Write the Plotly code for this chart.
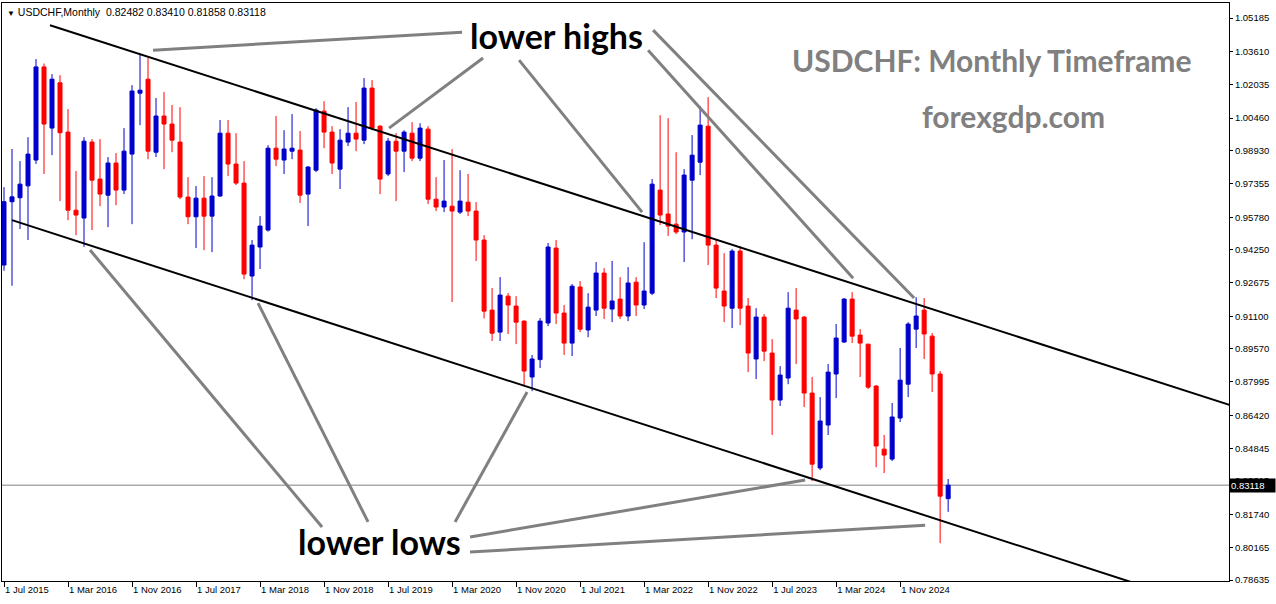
import plotly.graph_objects as go
import pandas as pd

# ---------------- data ----------------
symbol = "USDCHF"
timeframe = "Monthly"
start_month = "2015-07-01"

opens = [0.9352, 0.9651, 0.9670, 0.9726, 0.9848, 1.0288, 0.9999, 1.0213, 0.9980, 0.9611,
         0.9574, 0.9933, 0.9758, 0.9682, 0.9834, 0.9706, 0.9876, 1.0164, 1.0230, 0.9885,
         1.0056, 1.0018, 0.9933, 0.9673, 0.9580, 0.9668, 0.9583, 0.9678, 0.9975, 0.9829,
         0.9739, 0.9300, 0.9437, 0.9517, 0.9904, 0.9848, 0.9890, 0.9895, 0.9687, 0.9800,
         1.0079, 0.9980, 0.9805, 0.9933, 0.9975, 0.9942, 1.0188, 1.0008, 0.9782, 0.9937,
         0.9890, 0.9975, 0.9857, 0.9994, 0.9663, 0.9626, 0.9630, 0.9602, 0.9649, 0.9607,
         0.9470, 0.9139, 0.9035, 0.9205, 0.9158, 0.9087, 0.8823, 0.8905, 0.9078, 0.9432,
         0.9125, 0.8983, 0.9248, 0.9045, 0.9139, 0.9314, 0.9144, 0.9191, 0.9111, 0.9271,
         0.9163, 0.9219, 0.9706, 0.9593, 0.9545, 0.9508, 0.9753, 0.9838, 1.0008, 0.9446,
         0.9229, 0.9148, 0.9418, 0.9158, 0.8908, 0.9106, 0.8936, 0.8714, 0.8818, 0.9139,
         0.9106, 0.8747, 0.8393, 0.8596, 0.8837, 0.8988, 0.9191, 0.9021, 0.8978, 0.8780,
         0.8482, 0.8435, 0.8629, 0.8789, 0.9049, 0.9139, 0.9016, 0.8837, 0.82482]
highs = [0.9720, 0.9900, 0.9843, 0.9956, 1.0325, 1.0304, 1.0254, 1.0249, 1.0089, 0.9796,
         0.9956, 0.9947, 0.9947, 0.9862, 0.9881, 0.9999, 1.0202, 1.0348, 1.0330, 1.0141,
         1.0169, 1.0108, 1.0098, 0.9767, 0.9725, 0.9772, 0.9767, 1.0037, 1.0037, 0.9975,
         0.9843, 0.9470, 0.9583, 0.9918, 1.0056, 0.9989, 1.0065, 0.9985, 0.9819, 1.0093,
         1.0126, 1.0008, 0.9994, 1.0098, 1.0122, 1.0235, 1.0226, 1.0013, 0.9952, 0.9975,
         0.9989, 1.0027, 1.0022, 1.0008, 0.9767, 0.9848, 0.9900, 0.9800, 0.9782, 0.9649,
         0.9493, 0.9243, 0.9295, 0.9219, 0.9205, 0.9090, 0.8927, 0.9101, 0.9456, 0.9470,
         0.9163, 0.9262, 0.9276, 0.9219, 0.9366, 0.9337, 0.9371, 0.9295, 0.9342, 0.9295,
         0.9460, 0.9758, 1.0060, 1.0046, 0.9885, 0.9805, 0.9966, 1.0103, 1.0145, 0.9470,
         0.9408, 0.9427, 0.9441, 0.9196, 0.9148, 0.9120, 0.9002, 0.8874, 0.9224, 0.9243,
         0.9111, 0.8823, 0.8728, 0.8884, 0.9073, 0.9196, 0.9224, 0.9049, 0.8980, 0.8785,
         0.8549, 0.8700, 0.8960, 0.9082, 0.9200, 0.9196, 0.9030, 0.8851, 0.83410]
lows = [0.9325, 0.9254, 0.9522, 0.9470, 0.9829, 0.9782, 0.9871, 0.9654, 0.9564, 0.9493,
        0.9438, 0.9517, 0.9630, 0.9531, 0.9635, 0.9687, 0.9545, 1.0013, 0.9852, 0.9862,
        0.9805, 0.9885, 0.9663, 0.9545, 0.9432, 0.9422, 0.9413, 0.9675, 0.9772, 0.9730,
        0.9285, 0.9186, 0.9333, 0.9510, 0.9819, 0.9782, 0.9852, 0.9645, 0.9536, 0.9791,
        0.9904, 0.9782, 0.9711, 0.9914, 0.9890, 0.9923, 0.9989, 0.9687, 0.9772, 0.9654,
        0.9791, 0.9843, 0.9843, 0.9640, 0.9607, 0.9602, 0.9177, 0.9593, 0.9583, 0.9371,
        0.9100, 0.8993, 0.8993, 0.9026, 0.8978, 0.8785, 0.8756, 0.8865, 0.9063, 0.9073,
        0.8927, 0.8922, 0.9035, 0.9011, 0.9111, 0.9097, 0.9082, 0.9097, 0.9087, 0.9111,
        0.9144, 0.9210, 0.9541, 0.9489, 0.9498, 0.9366, 0.9474, 0.9777, 0.9352, 0.9196,
        0.9082, 0.9054, 0.9068, 0.8846, 0.8813, 0.8898, 0.8549, 0.8686, 0.8789, 0.8884,
        0.8681, 0.8331, 0.8383, 0.8549, 0.8723, 0.8985, 0.8983, 0.8823, 0.8766, 0.8397,
        0.8369, 0.8426, 0.8610, 0.8728, 0.8960, 0.8908, 0.8752, 0.8038, 0.81858]
closes = [0.9651, 0.9674, 0.9734, 0.9876, 1.0288, 1.0018, 1.0230, 0.9977, 0.9611, 0.9588,
          0.9937, 0.9753, 0.9687, 0.9834, 0.9706, 0.9890, 1.0174, 1.0178, 0.9890, 1.0056,
          1.0018, 0.9942, 0.9673, 0.9580, 0.9668, 0.9583, 0.9678, 0.9975, 0.9829, 0.9739,
          0.9309, 0.9446, 0.9536, 0.9904, 0.9852, 0.9900, 0.9904, 0.9682, 0.9815, 1.0084,
          0.9980, 0.9834, 0.9942, 0.9975, 0.9947, 1.0188, 0.9999, 0.9758, 0.9937, 0.9890,
          0.9980, 0.9857, 0.9999, 0.9663, 0.9626, 0.9654, 0.9607, 0.9654, 0.9607, 0.9470,
          0.9134, 0.9030, 0.9210, 0.9163, 0.9082, 0.8851, 0.8908, 0.9087, 0.9437, 0.9125,
          0.8983, 0.9252, 0.9049, 0.9153, 0.9314, 0.9148, 0.9182, 0.9111, 0.9267, 0.9163,
          0.9229, 0.9734, 0.9588, 0.9536, 0.9508, 0.9777, 0.9871, 1.0013, 0.9446, 0.9243,
          0.9158, 0.9418, 0.9148, 0.8936, 0.9106, 0.8945, 0.8714, 0.8832, 0.9148, 0.9097,
          0.8747, 0.8411, 0.8615, 0.8846, 0.9007, 0.9191, 0.9016, 0.8983, 0.8775, 0.8497,
          0.8454, 0.8634, 0.8808, 0.9073, 0.9111, 0.9026, 0.8837, 0.8260, 0.83118]

y_tick_values = [1.05185, 1.03610, 1.02035, 1.00460, 0.98930, 0.97355, 0.95780, 0.94250,
                 0.92675, 0.91100, 0.89570, 0.87995, 0.86420, 0.84845, 0.83315, 0.81740,
                 0.80165, 0.78635]
x_tick_step = 8

# drawings: (bar index, price) end points
upper_channel = [(5.75, 1.0485), (155.0, 0.8669)]
lower_channel = [(1.0, 0.9564), (143.25, 0.7825)]
high_pointers = [
    [(18.625, 1.0367), (57.25, 1.0452)],
    [(59.875, 1.0330), (48.125, 0.9999)],
    [(64.375, 1.0320), (79.75, 0.9602)],
    [(80.5, 1.0367), (106.125, 0.9290)],
    [(81.125, 1.0462), (113.75, 0.9196)],
]
low_pointers = [
    [(10.75, 0.9423), (39.75, 0.8114)],
    [(31.75, 0.9172), (45.5, 0.8138)],
    [(65.375, 0.8752), (56.375, 0.8138)],
    [(100.125, 0.8336), (58.25, 0.8067)],
    [(115.125, 0.8123), (58.25, 0.7996)],
]

# ---------------- figure ----------------
BLUE = "#0000CC"
RED = "#FF0000"
GRAY = "#808080"
AXIS_FAMILY = "Liberation Sans, Arial, sans-serif"
TICK_FONT = dict(family=AXIS_FAMILY, size=9.5, color="black")
BIG_FONT = "Lato, sans-serif"

months = pd.date_range(start_month, periods=len(opens), freq="MS")
idx = list(range(len(months)))
x_tickvals = idx[::x_tick_step]
x_ticktext = [f"1 {m.strftime('%b %Y')}" for m in months[::x_tick_step]]

fig = go.Figure()
fig.add_trace(go.Candlestick(
    x=idx, open=opens, high=highs, low=lows, close=closes,
    increasing=dict(line=dict(color=BLUE, width=1), fillcolor=BLUE),
    decreasing=dict(line=dict(color=RED, width=1), fillcolor=RED),
    whiskerwidth=0, showlegend=False, hoverinfo="skip",
))

shapes = []
shapes.append(dict(type="line", xref="paper", x0=0, x1=1, yref="y", y0=closes[-1], y1=closes[-1],
                   line=dict(color=GRAY, width=1), layer="below"))
for (p0, p1) in [upper_channel, lower_channel]:
    shapes.append(dict(type="line", xref="x", yref="y", x0=p0[0], y0=p0[1], x1=p1[0], y1=p1[1],
                       line=dict(color="black", width=2)))
for (p0, p1) in high_pointers + low_pointers:
    shapes.append(dict(type="line", xref="x", yref="y", x0=p0[0], y0=p0[1], x1=p1[0], y1=p1[1],
                       line=dict(color=GRAY, width=3)))

header = (f"<span style='font-size:8px'>▼</span>\u00a0{symbol},{timeframe}\u00a0\u00a0"
          f"{opens[-1]:.5f} {highs[-1]:.5f} {lows[-1]:.5f} {closes[-1]:.5f}")

annotations = [
    dict(text=header, xref="paper", yref="paper", x=0, y=1, xanchor="left", yanchor="top",
         xshift=3, yshift=-1, showarrow=False, font=dict(family=AXIS_FAMILY, size=10.5, color="black")),
    dict(text=f"{closes[-1]:.5f}", xref="paper", yref="y", x=1, y=closes[-1], xanchor="left",
         yanchor="middle", showarrow=False, bgcolor="black", borderpad=1, xshift=0,
         width=43, height=11, align="left",
         font=dict(family=AXIS_FAMILY, size=9.5, color="white")),
    dict(text="<b>lower highs</b>", xref="paper", yref="paper", x=0.4523, y=0.943,
         xanchor="center", yanchor="middle",
         showarrow=False, font=dict(family=BIG_FONT, size=34, color="black")),
    dict(text="<b>lower lows</b>", xref="paper", yref="paper", x=0.308, y=0.0675,
         xanchor="center", yanchor="middle",
         showarrow=False, font=dict(family=BIG_FONT, size=34, color="black")),
    dict(text=f"<b>{symbol}: {timeframe} Timeframe</b>", xref="paper", yref="paper", x=0.8068, y=0.9014,
         xanchor="center", yanchor="middle",
         showarrow=False, font=dict(family=BIG_FONT, size=30, color=GRAY)),
    dict(text="<b>forexgdp.com</b>", xref="paper", yref="paper", x=0.824, y=0.8045,
         xanchor="center", yanchor="middle",
         showarrow=False, font=dict(family=BIG_FONT, size=30, color=GRAY)),
]

fig.update_layout(
    width=1276, height=604,
    margin=dict(l=2, r=47, t=3, b=23),
    paper_bgcolor="white", plot_bgcolor="white",
    boxgap=0.5, boxgroupgap=0,
    shapes=shapes, annotations=annotations,
    showlegend=False,
    xaxis=dict(range=[-0.25, 153.1], tickvals=x_tickvals, ticktext=x_ticktext,
               showgrid=False, zeroline=False, showline=True, linecolor="black", linewidth=1,
               mirror=True, ticks="outside", ticklen=5, tickcolor="black",
               ticklabelposition="outside right", tickfont=TICK_FONT,
               rangeslider=dict(visible=False), fixedrange=True),
    yaxis=dict(range=[0.7859, 1.0590], side="right", tickvals=y_tick_values,
               ticktext=[f"{v:.5f}" for v in y_tick_values],
               showgrid=False, zeroline=False, showline=True, linecolor="black", linewidth=1,
               mirror=True, ticks="outside", ticklen=3, tickcolor="black", tickfont=TICK_FONT,
               fixedrange=True),
)

fig.write_html("out.html", config={"displayModeBar": False},
               post_script="document.body.style.margin='0';document.body.style.padding='0';"
                           "document.body.style.overflow='hidden';")
